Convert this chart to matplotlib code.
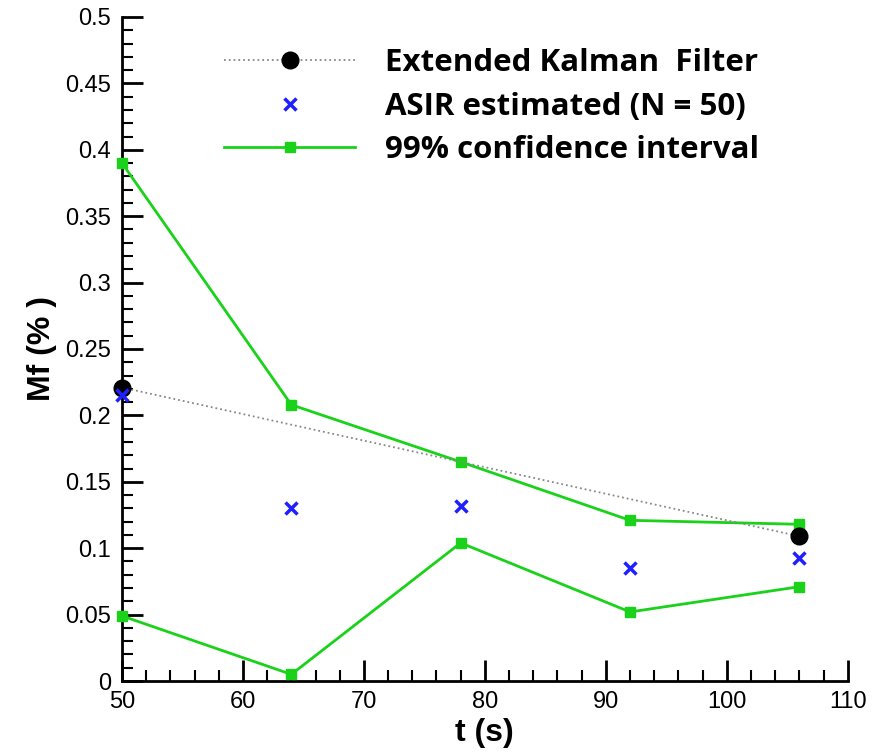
import matplotlib
matplotlib.use("Agg")
import matplotlib.pyplot as plt
from matplotlib.ticker import MultipleLocator
from matplotlib.lines import Line2D

plt.rcParams['font.family'] = ['Liberation Sans', 'DejaVu Sans']

# Data
t_ekf = [50, 106]
mf_ekf = [0.221, 0.109]

t_asir = [50, 64, 78, 92, 106]
mf_asir = [0.215, 0.130, 0.132, 0.085, 0.093]

t_ci = [50, 64, 78, 92, 106]
ci_upper = [0.390, 0.208, 0.165, 0.121, 0.118]
ci_lower = [0.049, 0.005, 0.104, 0.052, 0.071]

ytick_vals = [0, 0.05, 0.1, 0.15, 0.2, 0.25, 0.3, 0.35, 0.4, 0.45, 0.5]
ytick_labels = ['0', '0.05', '0.1', '0.15', '0.2', '0.25', '0.3', '0.35', '0.4', '0.45', '0.5']

green = '#19d219'
blue = '#2020ff'

fig = plt.figure(figsize=(8.84, 7.55), dpi=100)
ax = fig.add_axes([0.138, 0.098, 0.821, 0.8795])

ax.plot(t_ci, ci_upper, '-', color=green, lw=2, marker='s', ms=7, clip_on=False, zorder=3)
ax.plot(t_ci, ci_lower, '-', color=green, lw=2, marker='s', ms=7, clip_on=False, zorder=3)
ax.plot(t_ekf, mf_ekf, ':', color='#888888', lw=1.3, marker='o', ms=12,
        mfc='black', mec='black', clip_on=False, zorder=4)
ax.plot(t_asir, mf_asir, 'x', color=blue, ms=9, mew=2.5, ls='none', clip_on=False, zorder=5)

ax.set_xlim(50, 110)
ax.set_ylim(0, 0.5)
ax.xaxis.set_major_locator(MultipleLocator(10))
ax.xaxis.set_minor_locator(MultipleLocator(2))
ax.yaxis.set_minor_locator(MultipleLocator(0.01))
ax.set_yticks(ytick_vals)
ax.set_yticklabels(ytick_labels)

for s in ['top', 'right']:
    ax.spines[s].set_visible(False)
for s in ['left', 'bottom']:
    ax.spines[s].set_linewidth(2)

ax.tick_params(which='major', direction='in', length=15, width=2, labelsize=17)
ax.tick_params(axis='y', which='major', pad=8)
ax.tick_params(axis='x', which='major', pad=7)
ax.tick_params(which='minor', direction='in', length=8, width=1.5)

ax.set_xlabel('t (s)', fontsize=23, fontweight='bold', labelpad=4)
ax.set_ylabel('Mf (% )', fontsize=23, fontweight='bold', labelpad=6)

handles = [
    Line2D([], [], ls=':', color='#888888', lw=1.3, marker='o', ms=12, mfc='black', mec='black'),
    Line2D([], [], ls='none', marker='x', color=blue, ms=9, mew=2.5),
    Line2D([], [], ls='-', color=green, lw=2, marker='s', ms=7),
]
labels = ['Extended Kalman  Filter', 'ASIR estimated (N = 50)', '99% confidence interval']
leg = ax.legend(handles, labels, loc='upper left', bbox_to_anchor=(0.102, 0.995),
                frameon=False, handlelength=4.2, handletextpad=0.95, labelspacing=0.42,
                prop={'family': 'Open Sans', 'weight': 'bold', 'size': 22.5})

fig.savefig('out.png', dpi=100)
